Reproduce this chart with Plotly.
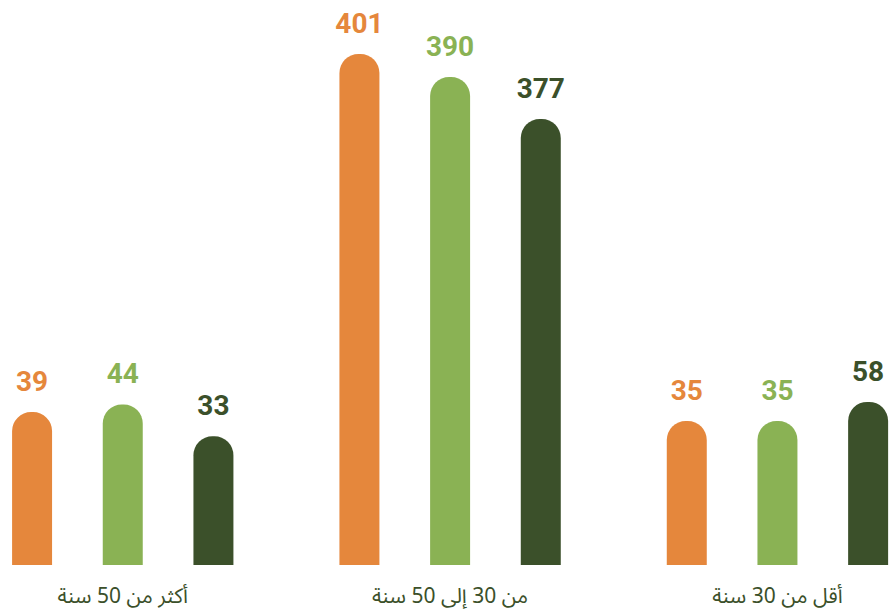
import plotly.graph_objects as go

# age bands, shown left to right as in the reference (right-to-left reading order)
categories = ["أكثر من 50 سنة", "من 30 إلى 50 سنة", "أقل من 30 سنة"]

# printed values above each bar
series_a = [39, 401, 35]
series_b = [44, 390, 35]
series_c = [33, 377, 58]

# the reference does not draw bars to scale; these are the bar heights as drawn,
# read off the picture in the same units (401 bar = 401)
drawn_a = [120, 401, 113]
drawn_b = [126, 383, 113]
drawn_c = [101, 350, 128]

colors = ["#E5873C", "#8AB254", "#3B502A"]

fig = go.Figure()

series = [("a", series_a, drawn_a), ("b", series_b, drawn_b), ("c", series_c, drawn_c)]

for (name, vals, drawn), col in zip(series, colors):
    fig.add_trace(go.Bar(
        x=categories, y=drawn, name=name, offsetgroup=name,
        marker=dict(color=col, cornerradius="50%", line=dict(width=0)),
        hoverinfo="skip"))

# value labels sit above the drawn bar tops
for (name, vals, drawn), col in zip(series, colors):
    fig.add_trace(go.Scatter(
        x=categories, y=drawn, name=name, offsetgroup=name, orientation="v",
        mode="markers+text", text=[str(v) for v in vals], textposition="top center",
        marker=dict(size=21, opacity=0),
        textfont=dict(family="Roboto", size=28, color=col, weight="bold"),
        cliponaxis=False, hoverinfo="skip"))

fig.update_layout(
    width=893, height=613,
    margin=dict(l=0, r=0, t=0, b=48),
    barmode="group", bargap=0.169, bargroupgap=0.559,
    scattermode="group", scattergap=0.169,
    showlegend=False,
    plot_bgcolor="white", paper_bgcolor="white",
    xaxis=dict(
        range=[-0.375, 2.353], showgrid=False, zeroline=False, showline=False,
        automargin=False,
        ticks="outside", ticklen=12, tickcolor="rgba(0,0,0,0)",
        tickfont=dict(family="Noto Sans Arabic, DejaVu Sans, sans-serif", size=21, color="#3B502A")),
    yaxis=dict(range=[0, 443.4], visible=False),
)

fig.write_html("out.html", config={"displayModeBar": False},
               post_script="document.body.style.margin='0';")
